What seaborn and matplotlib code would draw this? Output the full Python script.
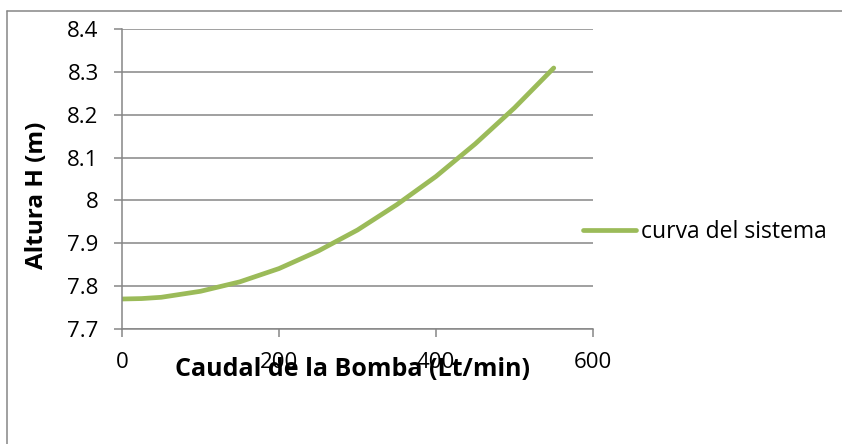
import matplotlib
matplotlib.use("Agg")
import matplotlib.pyplot as plt
from matplotlib.lines import Line2D
from matplotlib.ticker import FuncFormatter
import seaborn as sns
import pandas as pd

# Curva del sistema: caudal (Lt/min) vs altura H (m)
caudal = [0, 25, 50, 100, 150, 200, 250, 300, 350, 400, 450, 500, 550]
altura = [7.770, 7.771, 7.774, 7.788, 7.810, 7.841, 7.882, 7.931, 7.990,
          8.056, 8.132, 8.216, 8.309]
serie = "curva del sistema"
x_ticks = [0, 200, 400, 600]
y_ticks = [7.7, 7.8, 7.9, 8.0, 8.1, 8.2, 8.3, 8.4]

df = pd.DataFrame({"Caudal": caudal, "Altura": altura, "Serie": serie})

sns.set_theme(style="white")
plt.rcParams["font.family"] = ["Open Sans", "DejaVu Sans"]

W, H = 842, 444
fig = plt.figure(figsize=(W / 100, H / 100), dpi=100)
ax = fig.add_axes([122 / W, 1 - 329 / H, 471 / W, 300 / H])

GRAY = "#868686"
GREEN = "#9BBB59"

sns.lineplot(data=df, x="Caudal", y="Altura", hue="Serie", palette=[GREEN],
             ax=ax, linewidth=3.4, legend=False, solid_capstyle="round")

ax.set_xlim(0, 600)
ax.set_ylim(7.7, 8.4)
ax.set_xticks(x_ticks)
ax.set_yticks(y_ticks)
ax.yaxis.set_major_formatter(FuncFormatter(lambda v, p: f"{v:g}"))
ax.xaxis.set_major_formatter(FuncFormatter(lambda v, p: f"{v:g}"))

ax.grid(axis="y", color=GRAY, linewidth=1.1)
ax.grid(axis="x", visible=False)
ax.set_axisbelow(True)
for s in ("top", "right"):
    ax.spines[s].set_visible(False)
for s in ("left", "bottom"):
    ax.spines[s].set_color(GRAY)
    ax.spines[s].set_linewidth(1.1)

ax.tick_params(axis="y", which="major", direction="out", length=5.8, width=1.1,
               color=GRAY, pad=11, labelsize=16, labelcolor="black", left=True)
ax.tick_params(axis="x", which="major", direction="out", length=5.8, width=1.1,
               color=GRAY, pad=11, labelsize=16, labelcolor="black", bottom=True)

ax.set_xlabel("Caudal de la Bomba (Lt/min)", fontsize=18, fontweight="bold",
              color="black")
ax.xaxis.set_label_coords(0.49, -(369 - 329) / 300)
ax.xaxis.label.set_va("center")
ax.set_ylabel("Altura H (m)", fontsize=17.5, fontweight="bold", color="black")
ax.yaxis.set_label_coords(-(122 - 37) / 471, (329 - 195) / 300)
ax.yaxis.label.set_va("center")

handle = Line2D([], [], color=GREEN, linewidth=3.4, solid_capstyle="round")
fig.legend([handle], [serie], loc="center left",
           bbox_to_anchor=(583 / W, 1 - 232 / H), frameon=False,
           fontsize=16.5, handlelength=2.3, handletextpad=0.25,
           borderpad=0, borderaxespad=0, labelcolor="black")

# Outer chart-area border
fig.add_artist(Line2D([7 / W, 7 / W], [0, 1 - 11 / H], color=GRAY,
                      linewidth=1.1, transform=fig.transFigure))
fig.add_artist(Line2D([7 / W, 1], [1 - 11 / H, 1 - 11 / H], color=GRAY,
                      linewidth=1.1, transform=fig.transFigure))

fig.savefig("out.png", dpi=100, facecolor="white")
